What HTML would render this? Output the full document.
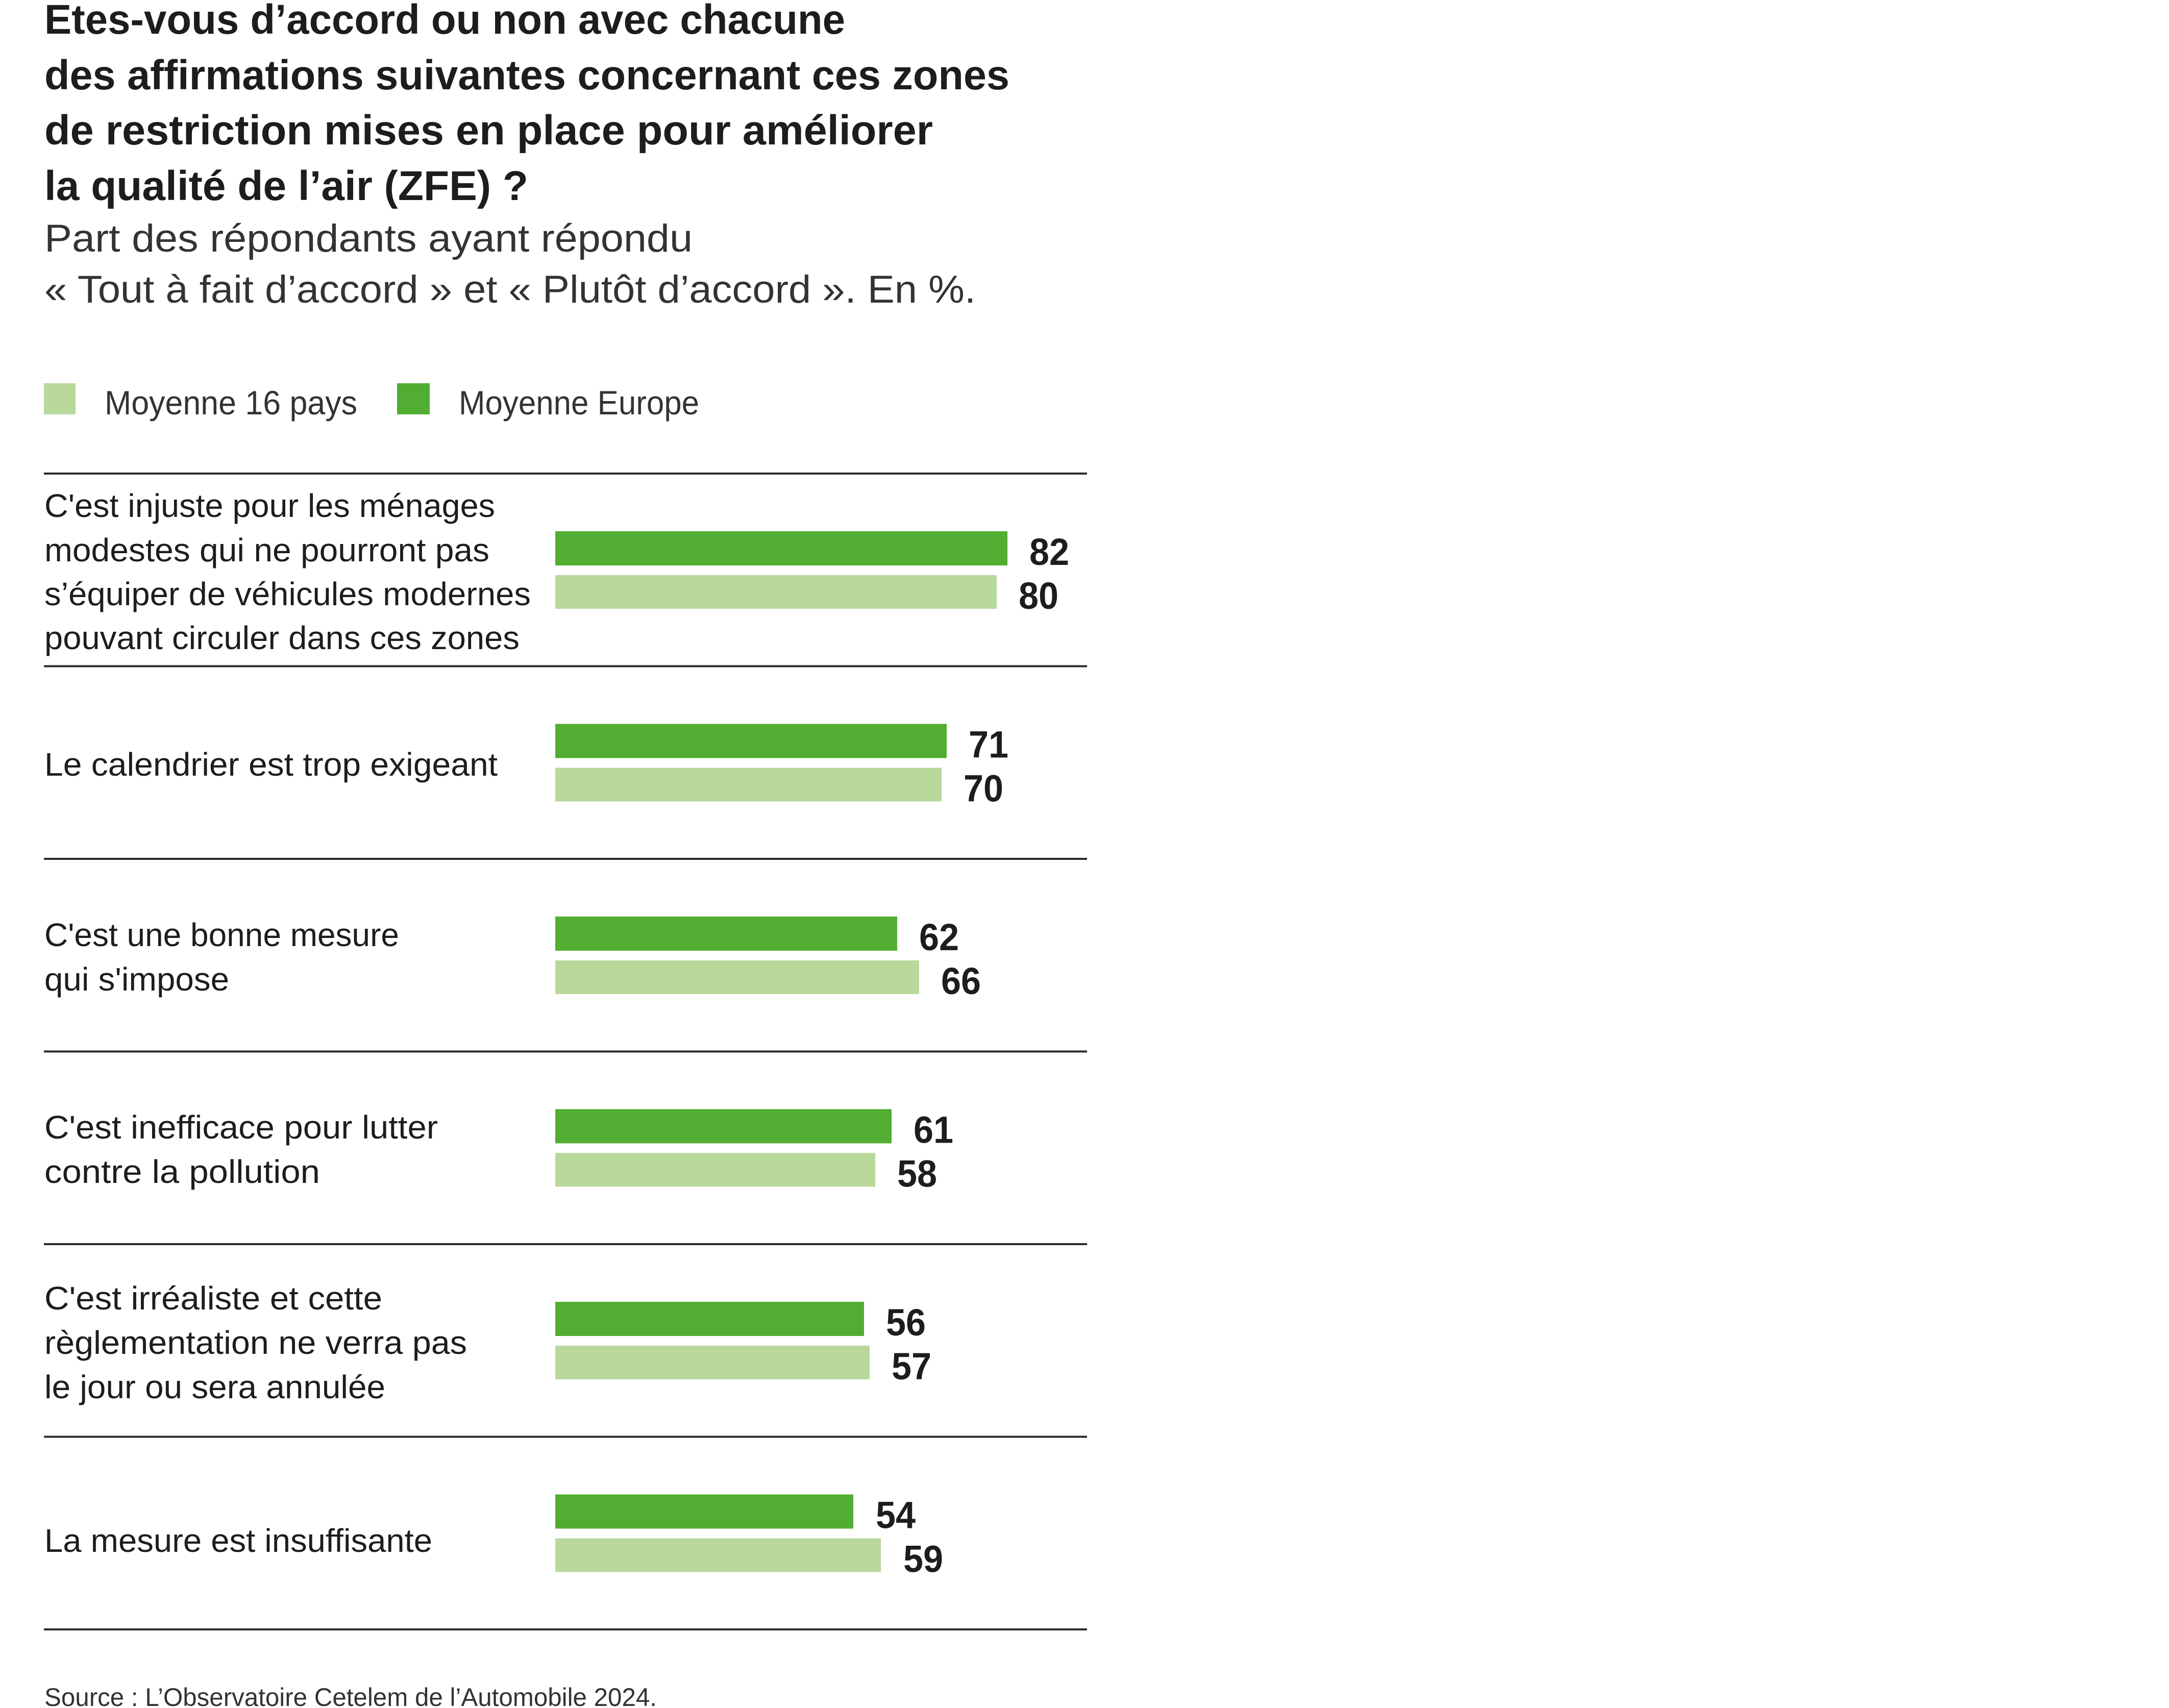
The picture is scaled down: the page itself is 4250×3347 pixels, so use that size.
<!DOCTYPE html>
<html><head><meta charset="utf-8"><style>html,body{margin:0;padding:0;background:#fff}svg{display:block}</style></head>
<body>
<svg xmlns="http://www.w3.org/2000/svg" width="4250" height="3347" viewBox="0 0 4250 3347">
<g font-family="Liberation Sans, sans-serif" fill="#1d1d1b">
<g font-weight="bold" font-size="82">
<text x="87" y="66" textLength="1569" lengthAdjust="spacingAndGlyphs">Etes-vous d’accord ou non avec chacune</text>
<text x="87" y="175" textLength="1891" lengthAdjust="spacingAndGlyphs">des affirmations suivantes concernant ces zones</text>
<text x="87" y="283" textLength="1741" lengthAdjust="spacingAndGlyphs">de restriction mises en place pour améliorer</text>
<text x="87" y="392" textLength="948" lengthAdjust="spacingAndGlyphs">la qualité de l’air (ZFE) ?</text>
</g>
<g font-size="76" fill="#333">
<text x="87" y="493" textLength="1270" lengthAdjust="spacingAndGlyphs">Part des répondants ayant répondu</text>
<text x="87" y="593" textLength="1825" lengthAdjust="spacingAndGlyphs">« Tout à fait d’accord » et « Plutôt d’accord ». En %.</text>
</g>
<rect x="86" y="751" width="62" height="61" fill="#b9d89c"/>
<rect x="778" y="751" width="64" height="61" fill="#52ae32"/>
<g font-size="66" fill="#333">
<text x="205" y="812" textLength="495" lengthAdjust="spacingAndGlyphs">Moyenne 16 pays</text>
<text x="899" y="812" textLength="471" lengthAdjust="spacingAndGlyphs">Moyenne Europe</text>
</g>
<g stroke="#2b2b2b" stroke-width="4">
<line x1="86" y1="928" x2="2130" y2="928"/>
<line x1="86" y1="1305.5" x2="2130" y2="1305.5"/>
<line x1="86" y1="1683" x2="2130" y2="1683"/>
<line x1="86" y1="2060.5" x2="2130" y2="2060.5"/>
<line x1="86" y1="2438" x2="2130" y2="2438"/>
<line x1="86" y1="2815.5" x2="2130" y2="2815.5"/>
<line x1="86" y1="3193" x2="2130" y2="3193"/>
</g>
<g>
<rect x="1088" y="1041" width="886" height="67" fill="#52ae32"/>
<rect x="1088" y="1127" width="865" height="66" fill="#b9d89c"/>
<rect x="1088" y="1418.5" width="767" height="67" fill="#52ae32"/>
<rect x="1088" y="1504.5" width="757" height="66" fill="#b9d89c"/>
<rect x="1088" y="1796" width="670" height="67" fill="#52ae32"/>
<rect x="1088" y="1882" width="713" height="66" fill="#b9d89c"/>
<rect x="1088" y="2173.5" width="659" height="67" fill="#52ae32"/>
<rect x="1088" y="2259.5" width="627" height="66" fill="#b9d89c"/>
<rect x="1088" y="2551" width="605" height="67" fill="#52ae32"/>
<rect x="1088" y="2637" width="616" height="66" fill="#b9d89c"/>
<rect x="1088" y="2928.5" width="584" height="67" fill="#52ae32"/>
<rect x="1088" y="3014.5" width="638" height="66" fill="#b9d89c"/>
</g>
<g font-weight="bold" font-size="74">
<text x="2017" y="1107" textLength="78" lengthAdjust="spacingAndGlyphs">82</text>
<text x="1996" y="1193" textLength="78" lengthAdjust="spacingAndGlyphs">80</text>
<text x="1898" y="1484.5" textLength="78" lengthAdjust="spacingAndGlyphs">71</text>
<text x="1888" y="1570.5" textLength="78" lengthAdjust="spacingAndGlyphs">70</text>
<text x="1801" y="1862" textLength="78" lengthAdjust="spacingAndGlyphs">62</text>
<text x="1844" y="1948" textLength="78" lengthAdjust="spacingAndGlyphs">66</text>
<text x="1790" y="2239.5" textLength="78" lengthAdjust="spacingAndGlyphs">61</text>
<text x="1758" y="2325.5" textLength="78" lengthAdjust="spacingAndGlyphs">58</text>
<text x="1736" y="2617" textLength="78" lengthAdjust="spacingAndGlyphs">56</text>
<text x="1747" y="2703" textLength="78" lengthAdjust="spacingAndGlyphs">57</text>
<text x="1716" y="2994.5" textLength="78" lengthAdjust="spacingAndGlyphs">54</text>
<text x="1770" y="3080.5" textLength="78" lengthAdjust="spacingAndGlyphs">59</text>
</g>
<g font-size="64" transform="translate(0,-8)">
<text x="87" y="1021" textLength="883" lengthAdjust="spacingAndGlyphs">C'est injuste pour les ménages</text>
<text x="87" y="1108" textLength="872" lengthAdjust="spacingAndGlyphs">modestes qui ne pourront pas</text>
<text x="87" y="1194" textLength="953" lengthAdjust="spacingAndGlyphs">s’équiper de véhicules modernes</text>
<text x="87" y="1280" textLength="931" lengthAdjust="spacingAndGlyphs">pouvant circuler dans ces zones</text>
<text x="87" y="1528" textLength="888" lengthAdjust="spacingAndGlyphs">Le calendrier est trop exigeant</text>
<text x="87" y="1862" textLength="695" lengthAdjust="spacingAndGlyphs">C'est une bonne mesure</text>
<text x="87" y="1949" textLength="362" lengthAdjust="spacingAndGlyphs">qui s'impose</text>
<text x="87" y="2239" textLength="771" lengthAdjust="spacingAndGlyphs">C'est inefficace pour lutter</text>
<text x="87" y="2326" textLength="540" lengthAdjust="spacingAndGlyphs">contre la pollution</text>
<text x="87" y="2574" textLength="662" lengthAdjust="spacingAndGlyphs">C'est irréaliste et cette</text>
<text x="87" y="2661" textLength="828" lengthAdjust="spacingAndGlyphs">règlementation ne verra pas</text>
<text x="87" y="2748" textLength="668" lengthAdjust="spacingAndGlyphs">le jour ou sera annulée</text>
<text x="87" y="3049" textLength="760" lengthAdjust="spacingAndGlyphs">La mesure est insuffisante</text>
</g>
<text x="87" y="3343" font-size="50" fill="#333" textLength="1200" lengthAdjust="spacingAndGlyphs">Source : L’Observatoire Cetelem de l’Automobile 2024.</text>
</g>
</svg>
</body></html>
